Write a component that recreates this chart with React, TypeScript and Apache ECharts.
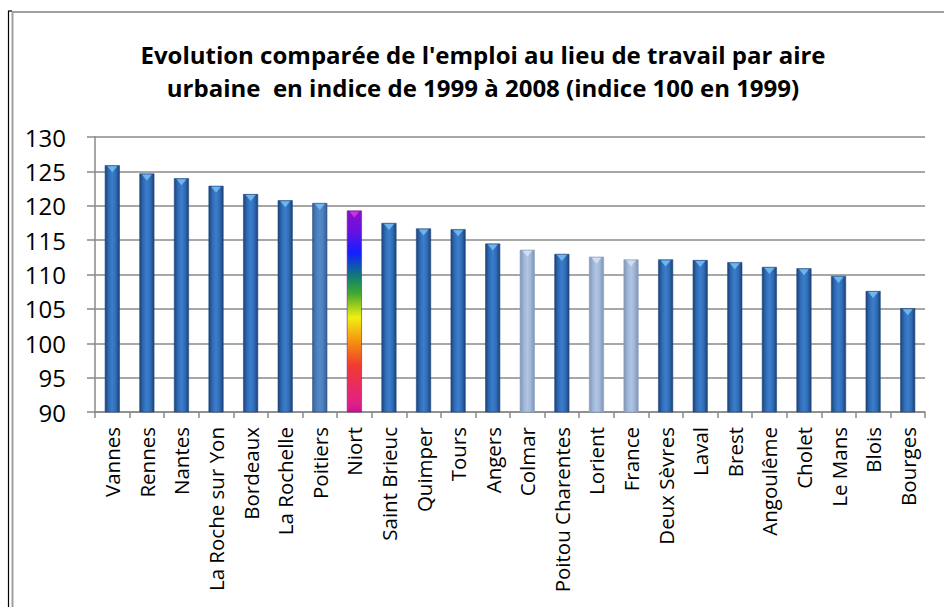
import React, { useEffect, useRef } from "react";
import * as echarts from "echarts";

const TITLE_LINE_1 = "Evolution comparée de l'emploi au lieu de travail par aire";
const TITLE_LINE_2 = "urbaine  en indice de 1999 à 2008 (indice 100 en 1999)";

const categories = [
  "Vannes", "Rennes", "Nantes", "La Roche sur Yon", "Bordeaux", "La Rochelle",
  "Poitiers", "Niort", "Saint Brieuc", "Quimper", "Tours", "Angers", "Colmar",
  "Poitou Charentes", "Lorient", "France", "Deux Sèvres", "Laval", "Brest",
  "Angoulême", "Cholet", "Le Mans", "Blois", "Bourges",
];

const values = [
  125.9, 124.7, 124.0, 122.9, 121.7, 120.8, 120.4, 119.3, 117.5, 116.7, 116.6,
  114.5, 113.6, 113.0, 112.6, 112.2, 112.2, 112.1, 111.8, 111.1, 110.9, 109.8,
  107.6, 105.1,
];

const yTicks = [90, 95, 100, 105, 110, 115, 120, 125, 130];

const lightCategories = ["Colmar", "Lorient", "France"];
const mediumCategories = ["Poitiers"];
const rainbowCategories = ["Niort"];

const FONT = "'Open Sans', 'Noto Sans', sans-serif";

function hGrad(stops: [number, string][]) {
  return new echarts.graphic.LinearGradient(
    0, 0, 1, 0,
    stops.map(([offset, color]) => ({ offset, color }))
  );
}

const darkFill = () =>
  hGrad([
    [0, "#1c427a"],
    [0.25, "#2f6bb4"],
    [0.5, "#3b7ecc"],
    [0.75, "#306cb6"],
    [1, "#1b4076"],
  ]);
const mediumFill = () =>
  hGrad([
    [0, "#3a6398"],
    [0.3, "#4c80c0"],
    [0.5, "#5489c8"],
    [0.7, "#4c80c0"],
    [1, "#395f93"],
  ]);
const lightFill = () =>
  hGrad([
    [0, "#8095b5"],
    [0.3, "#a3b9da"],
    [0.5, "#b0c5e3"],
    [0.7, "#a3b9da"],
    [1, "#7f94b4"],
  ]);
const rainbowFill = () =>
  new echarts.graphic.LinearGradient(0, 0, 0, 1, [
    { offset: 0, color: "#8a10c8" },
    { offset: 0.1, color: "#6a10e0" },
    { offset: 0.21, color: "#1020ff" },
    { offset: 0.33, color: "#108070" },
    { offset: 0.41, color: "#40a830" },
    { offset: 0.53, color: "#f0f010" },
    { offset: 0.66, color: "#f58a10" },
    { offset: 0.77, color: "#f03a30" },
    { offset: 0.96, color: "#e0208a" },
    { offset: 1, color: "#d01090" },
  ]);

function kindOf(name: string) {
  if (rainbowCategories.includes(name)) return "rainbow";
  if (lightCategories.includes(name)) return "light";
  if (mediumCategories.includes(name)) return "medium";
  return "dark";
}

export default function App() {
  const ref = useRef<HTMLDivElement>(null);

  useEffect(() => {
    document.body.style.margin = "0";
    if (!ref.current) return;
    const chart = echarts.init(ref.current, undefined, { renderer: "svg" });

    const barData = values.map((v, i) => {
      const k = kindOf(categories[i]);
      const color =
        k === "rainbow" ? rainbowFill() : k === "light" ? lightFill() : k === "medium" ? mediumFill() : darkFill();
      return {
        value: v,
        itemStyle: {
          color,
          borderColor: k === "light" ? "#8ea2c0" : k === "rainbow" ? "#7a1a90" : "#244a80",
          borderWidth: 0.6,
        },
      };
    });

    const capData = values.map((v, i) => {
      const k = kindOf(categories[i]);
      const c =
        k === "rainbow" ? "#d040e8" : k === "light" ? "#d8e4f4" : "#7cc4f6";
      return { value: v, itemStyle: { color: c } };
    });

    chart.setOption({
      animation: false,
      backgroundColor: "#ffffff",
      grid: { left: 95, top: 137, width: 830, height: 275, containLabel: false },
      xAxis: {
        type: "category",
        data: categories,
        boundaryGap: true,
        axisLine: { show: true, lineStyle: { color: "#8a8a8a", width: 1.5 } },
        axisTick: { show: true, length: 6, lineStyle: { color: "#8a8a8a", width: 1.5 } },
        axisLabel: {
          rotate: 90,
          interval: 0,
          margin: 15,
          color: "#000",
          fontSize: 20.5,
          fontFamily: FONT,
        },
      },
      yAxis: {
        type: "value",
        min: yTicks[0],
        max: yTicks[yTicks.length - 1],
        interval: yTicks[1] - yTicks[0],
        axisLine: { show: true, lineStyle: { color: "#8a8a8a", width: 1.5 } },
        axisTick: { show: true, length: 8, lineStyle: { color: "#8a8a8a", width: 1.5 } },
        splitLine: { show: true, lineStyle: { color: "#8a8a8a", width: 1.5 } },
        axisLabel: {
          margin: 29,
          color: "#000",
          fontSize: 24,
          fontFamily: FONT,
        },
      },
      series: [
        {
          type: "bar",
          data: barData,
          barWidth: 15,
          z: 2,
        },
        {
          type: "scatter",
          data: capData,
          symbol: "triangle",
          symbolRotate: 180,
          symbolSize: [10, 6],
          symbolOffset: [0, 4],
          z: 3,
          silent: true,
        },
      ],
      graphic: [
        {
          type: "line",
          shape: { x1: 8.5, y1: 11, x2: 8.5, y2: 607 },
          style: { stroke: "#000", lineWidth: 1.2 },
        },
        {
          type: "line",
          shape: { x1: 8, y1: 11, x2: 12, y2: 11 },
          style: { stroke: "#000", lineWidth: 1.2 },
        },
        {
          type: "line",
          shape: { x1: 12.5, y1: 12, x2: 12.5, y2: 607 },
          style: { stroke: "#a0a0a0", lineWidth: 2 },
        },
        {
          type: "line",
          shape: { x1: 12, y1: 12, x2: 944, y2: 12 },
          style: { stroke: "#a0a0a0", lineWidth: 2 },
        },
        {
          type: "text",
          x: 483,
          y: 71,
          style: {
            text: TITLE_LINE_1 + "\n" + TITLE_LINE_2,
            fill: "#000",
            fontSize: 24,
            fontWeight: "bold",
            fontFamily: FONT,
            lineHeight: 33,
            align: "center",
            verticalAlign: "middle",
          },
        },
      ],
    });

    return () => chart.dispose();
  }, []);

  return <div ref={ref} style={{ width: 944, height: 607 }} />;
}
